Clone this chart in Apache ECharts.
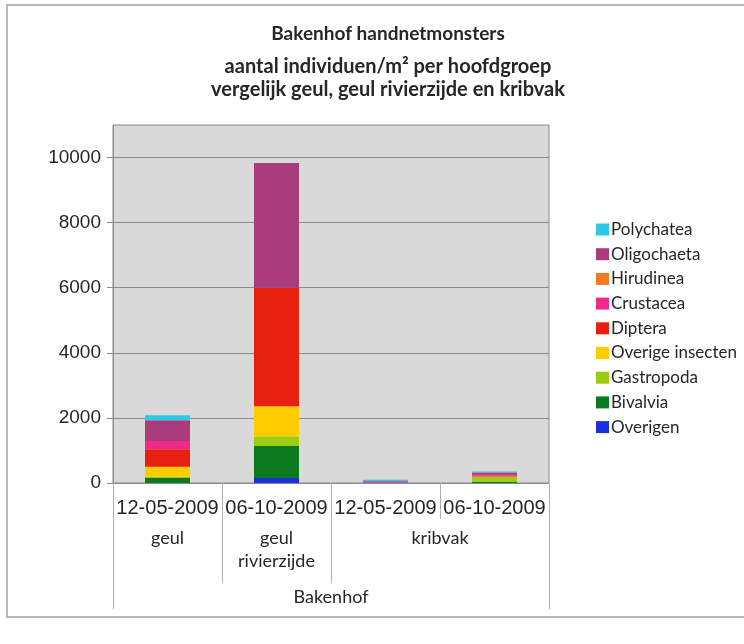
<!DOCTYPE html>
<html>
<head>
<meta charset="utf-8">
<script src="https://cdn.jsdelivr.net/npm/echarts@6/dist/echarts.min.js"></script>
<style>html,body{margin:0;padding:0;background:#fff;}#c{width:744px;height:644px;}</style>
</head>
<body>
<div id="c"></div>
<script>
// ---- data ----
const dates = ['12-05-2009', '06-10-2009', '12-05-2009', '06-10-2009'];
const groups = ['geul', 'geul\nrivierzijde', 'kribvak'];
const groupCenters = [0.5, 1.5, 3];
const groupBounds = [0, 1, 2, 4];
const siteName = 'Bakenhof';
const yTicks = [0, 2000, 4000, 6000, 8000, 10000];

// stacked from bottom to top
const seriesNames = ['Overigen', 'Bivalvia', 'Gastropoda', 'Overige insecten', 'Diptera', 'Crustacea', 'Hirudinea', 'Oligochaeta', 'Polychatea'];
const overigen        = [0, 150, 0, 0];
const bivalvia        = [150, 990, 0, 40];
const gastropoda      = [40, 290, 0, 150];
const overigeInsecten = [310, 930, 0, 10];
const diptera         = [540, 3640, 0, 30];
const crustacea       = [250, 0, 20, 50];
const hirudinea       = [0, 0, 0, 0];
const oligochaeta     = [640, 3830, 30, 40];
const polychatea      = [150, 0, 50, 30];
const seriesValues = [overigen, bivalvia, gastropoda, overigeInsecten, diptera, crustacea, hirudinea, oligochaeta, polychatea];
const seriesColors = ['#1c2fe0', '#0b7a1e', '#9ccc10', '#ffcc00', '#e82010', '#f02a8c', '#f07a1e', '#a83c7c', '#2cc8ea'];

const chart = echarts.init(document.getElementById('c'));
const txt = '#262626';
const option = {
  animation: false,
  backgroundColor: '#ffffff',
  title: {
    text: 'Bakenhof handnetmonsters',
    subtext: 'aantal individuen/m² per hoofdgroep\nvergelijk geul, geul rivierzijde en kribvak',
    left: 383, top: 19, textAlign: 'center',
    itemGap: 11.5,
    textStyle: { fontFamily: 'Lato', fontWeight: 'bold', fontSize: 19, color: txt, lineHeight: 20 },
    subtextStyle: { fontFamily: 'Lato', fontWeight: 'bold', fontSize: 20, color: txt, lineHeight: 23 }
  },
  legend: {
    orient: 'vertical', left: 591, top: 216,
    data: seriesNames.slice().reverse(),
    itemWidth: 13, itemHeight: 12, itemGap: 7.7,
    icon: 'rect',
    textStyle: { fontFamily: 'Lato', fontSize: 17, color: txt, lineHeight: 17, padding: [0, 0, 0, -3] }
  },
  graphic: [{
    type: 'rect', shape: { x: 7, y: 5, width: 750, height: 612 },
    style: { fill: 'none', stroke: '#a0a0a0', lineWidth: 1.5 }, silent: true, z: -1
  }],
  grid: { left: 113, top: 125, right: 195, bottom: 161, show: true, backgroundColor: '#d9d9d9', borderColor: '#8c8c8c', borderWidth: 1 },
  xAxis: [{
    type: 'category', data: dates, position: 'bottom',
    axisLine: { lineStyle: { color: '#8c8c8c' } },
    axisTick: { show: true, length: 36, lineStyle: { color: '#b0b0b0' } },
    axisLabel: { margin: 15, fontFamily: 'Liberation Sans', fontSize: 20, color: txt, interval: 0 }
  }, {
    type: 'value', min: 0, max: 4, position: 'bottom', offset: 36,
    axisLine: { show: false }, splitLine: { show: false },
    axisTick: { show: true, length: 64, customValues: groupBounds, lineStyle: { color: '#b0b0b0' } },
    axisLabel: {
      margin: 8, fontFamily: 'Lato', fontSize: 18, color: txt, lineHeight: 23,
      customValues: groupCenters,
      formatter: v => { const i = groupCenters.indexOf(v); return i >= 0 ? groups[i] : ''; }
    }
  }, {
    type: 'value', min: 0, max: 4, position: 'bottom', offset: 100,
    axisLine: { show: false }, splitLine: { show: false },
    axisTick: { show: true, length: 26, customValues: [0, 4], lineStyle: { color: '#b0b0b0' } },
    axisLabel: {
      margin: 5, fontFamily: 'Lato', fontSize: 18, color: txt,
      customValues: [2], formatter: () => siteName
    }
  }],
  yAxis: {
    type: 'value', min: 0, max: 11000, interval: 2000,
    axisLine: { show: true, lineStyle: { color: '#8c8c8c' } },
    axisTick: { show: true, length: 6, customValues: yTicks, lineStyle: { color: '#8c8c8c' } },
    splitLine: { show: true, lineStyle: { color: '#8c8c8c', width: 1 } },
    axisLabel: {
      margin: 12, fontFamily: 'Liberation Sans', fontSize: 19, color: txt, showMaxLabel: false,
      formatter: v => String(v)
    }
  },
  series: seriesNames.map((n, i) => ({
    name: n, type: 'bar', stack: 'total', xAxisIndex: 0, barWidth: 45,
    data: seriesValues[i], itemStyle: { color: seriesColors[i] }
  }))
};
chart.setOption(option);
</script>
</body>
</html>
